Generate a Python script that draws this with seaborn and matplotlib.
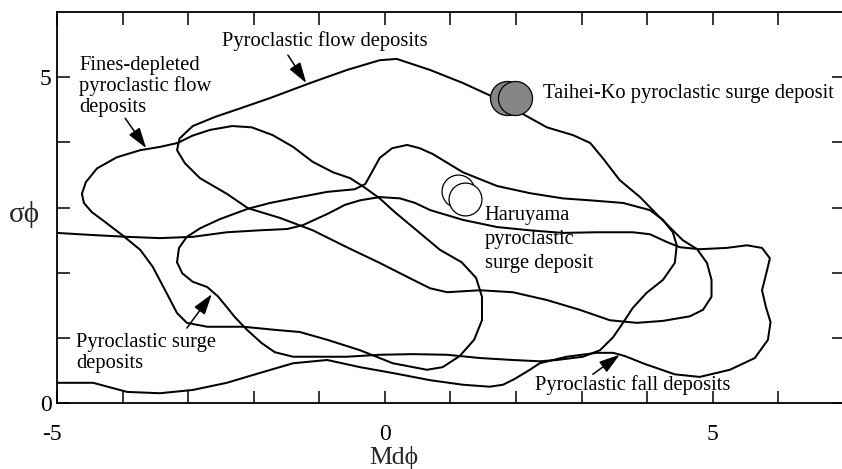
import matplotlib
matplotlib.use("Agg")
import matplotlib.pyplot as plt
from matplotlib.transforms import ScaledTranslation
import pandas as pd
import seaborn as sns

# ---- field outlines on the Md(phi) - sigma(phi) plane ----
flow_md = [-1.14, -0.58, -0.08, 0.18, 0.69, 1.19, 1.60, 1.95, 2.47, 2.87, 3.13, 3.32,
           3.58, 3.89, 4.19, 4.39, 4.54, 4.76, 4.91, 4.98, 4.98, 4.85, 4.65, 4.24,
           3.84, 3.43, 2.97, 2.47, 1.95, 1.45, 0.95, 0.69, 0.43, -0.08, -0.58, -1.10,
           -1.60, -2.09, -2.41, -2.82, -3.05, -3.17, -3.13, -2.93, -2.59, -2.21, -1.75]
flow_sigma = [4.91, 5.11, 5.26, 5.28, 5.11, 4.91, 4.72, 4.52, 4.23, 4.11, 3.99, 3.76,
              3.42, 3.16, 2.85, 2.65, 2.50, 2.36, 2.15, 1.89, 1.63, 1.43, 1.33, 1.26,
              1.23, 1.27, 1.43, 1.58, 1.70, 1.73, 1.70, 1.76, 1.89, 2.15, 2.39, 2.65,
              2.84, 2.99, 3.21, 3.45, 3.68, 3.88, 4.06, 4.25, 4.39, 4.52, 4.68]

fines_md = [-3.16, -2.94, -2.67, -2.33, -2.03, -1.71, -1.40, -1.10, -0.79, -0.53, -0.30,
            -0.08, 0.15, 0.46, 0.84, 1.17, 1.39, 1.48, 1.48, 1.36, 1.14, 0.88, 0.64,
            0.12, -0.38, -0.88, -1.30, -1.65, -2.16, -2.71, -3.02, -3.17, -3.32, -3.54,
            -3.73, -4.01, -4.27, -4.47, -4.59, -4.62, -4.56, -4.39, -4.09, -3.73, -3.43]
fines_sigma = [3.99, 4.10, 4.19, 4.25, 4.23, 4.11, 3.93, 3.70, 3.54, 3.45, 3.30,
               3.14, 2.93, 2.67, 2.35, 2.16, 1.92, 1.63, 1.27, 0.97, 0.72, 0.55, 0.51,
               0.61, 0.81, 0.97, 1.09, 1.12, 1.17, 1.17, 1.23, 1.38, 1.67, 2.09,
               2.35, 2.58, 2.78, 2.93, 3.07, 3.21, 3.39, 3.60, 3.77, 3.88, 3.93]

surge_md = [-3.17, -3.14, -3.02, -2.82, -2.52, -2.09, -1.75, -1.40, -0.88, -0.46, -0.30,
            -0.20, -0.08, 0.11, 0.34, 0.53, 0.73, 1.19, 1.71, 2.21, 2.71, 3.13, 3.63,
            4.04, 4.24, 4.39, 4.45, 4.42, 4.24, 3.99, 3.78, 3.63, 3.48, 3.28, 3.02,
            2.62, 2.36, 1.95, 1.45, 0.95, 0.43, -0.08, -0.58, -1.10, -1.40, -1.68,
            -1.88, -2.10, -2.29, -2.41, -2.55, -2.71, -2.93, -3.09]
surge_sigma = [2.16, 2.38, 2.55, 2.68, 2.82, 2.98, 3.07, 3.14, 3.24, 3.28, 3.36,
               3.54, 3.76, 3.91, 3.96, 3.91, 3.82, 3.54, 3.33, 3.22, 3.14, 3.11, 3.07,
               2.96, 2.81, 2.62, 2.42, 2.15, 1.89, 1.69, 1.46, 1.23, 1.01, 0.81, 0.71,
               0.66, 0.64, 0.66, 0.69, 0.74, 0.75, 0.74, 0.71, 0.71, 0.71, 0.78,
               0.92, 1.12, 1.32, 1.47, 1.64, 1.78, 1.86, 1.99]

fall_md = [-5.00, -4.50, -3.93, -3.43, -2.93, -2.41, -1.91, -1.49, -1.25, -0.88, -0.61,
           -0.38, -0.08, 0.23, 0.46, 0.69, 1.19, 1.71, 2.21, 2.71, 3.23, 3.78, 4.04,
           4.30, 4.50, 4.80, 5.21, 5.52, 5.75, 5.87, 5.82, 5.75, 5.81, 5.88, 5.84,
           5.64, 5.26, 4.80, 4.42, 3.96, 3.66, 3.48, 3.23, 2.77, 2.36, 2.21, 1.98,
           1.80, 1.60, 1.19, 0.69, 0.12, -0.38, -0.88, -1.40, -1.91, -2.41, -2.93,
           -3.43, -3.93, -4.45, -5.00]
fall_sigma = [2.61, 2.58, 2.55, 2.53, 2.55, 2.62, 2.65, 2.67, 2.73, 2.90, 3.04,
              3.11, 3.16, 3.14, 3.07, 2.96, 2.81, 2.70, 2.65, 2.61, 2.62, 2.62, 2.59,
              2.47, 2.39, 2.36, 2.38, 2.42, 2.38, 2.22, 2.01, 1.73, 1.47, 1.24, 0.97,
              0.69, 0.51, 0.40, 0.44, 0.60, 0.72, 0.77, 0.77, 0.71, 0.61, 0.51, 0.37,
              0.28, 0.25, 0.28, 0.35, 0.46, 0.55, 0.66, 0.61, 0.46, 0.31, 0.20,
              0.15, 0.17, 0.31, 0.31]

# ---- measured samples ----
taihei_md = [1.86, 1.98]
taihei_sigma = [4.68, 4.68]
haruyama_md = [1.11, 1.22]
haruyama_sigma = [3.25, 3.13]

x_ticks = list(range(-5, 7))
x_ticklabels = ["-5", "", "", "", "", "0", "", "", "", "", "5", ""]
y_ticks = list(range(0, 6))
y_ticklabels = ["0", "", "", "", "", "5"]

sns.set_style("ticks")
serif = ["Liberation Serif", "DejaVu Serif"]
plt.rcParams["font.family"] = serif

fig = plt.figure(figsize=(8.42, 4.69), dpi=100)
ax = fig.add_axes([57 / 842, 66 / 469, 787 / 842, 391 / 469])


def outline(md, sigma, closed=True):
    if closed:
        md = md + md[:1]
        sigma = sigma + sigma[:1]
    df = pd.DataFrame({"md": md, "sigma": sigma})
    sns.lineplot(data=df, x="md", y="sigma", sort=False, estimator=None,
                 color="black", linewidth=1.45, ax=ax,
                 solid_joinstyle="round", solid_capstyle="round")


outline(flow_md, flow_sigma)
outline(fines_md, fines_sigma)
outline(surge_md, surge_sigma)
outline(fall_md, fall_sigma, closed=False)

# sample points: back circle first, front circle second
for i in range(2):
    sns.scatterplot(x=[taihei_md[i]], y=[taihei_sigma[i]], s=600, color="#858585",
                    edgecolor="black", linewidth=0.9, ax=ax, zorder=5)
    sns.scatterplot(x=[haruyama_md[i]], y=[haruyama_sigma[i]], s=560, color="white",
                    edgecolor="black", linewidth=0.9, ax=ax, zorder=5)

ax.set_xlim(-5, 7)
ax.set_ylim(0, 6)

txt = dict(fontsize=14.8, color="black", va="baseline", ha="left")
ax.text(-2.48, 5.48, "Pyroclastic flow deposits", **txt)
ax.text(-4.66, 5.11, "Fines-depleted", **txt)
ax.text(-4.66, 4.79, "pyroclastic flow", **txt)
ax.text(-4.66, 4.46, "deposits", **txt)
ax.text(2.41, 4.68, "Taihei-Ko pyroclastic surge deposit", **txt)
ax.text(1.52, 2.81, "Haruyama", **txt)
ax.text(1.52, 2.44, "pyroclastic", **txt)
ax.text(1.52, 2.07, "surge deposit", **txt)
ax.text(-4.71, 0.86, "Pyroclastic surge", **txt)
ax.text(-4.71, 0.54, "deposits", **txt)
ax.text(2.29, 0.20, "Pyroclastic fall deposits", **txt)

arrow = dict(arrowstyle="-|>,head_length=0.7,head_width=0.22", color="black",
             lw=1.1, mutation_scale=18, shrinkA=0, shrinkB=0)
ax.annotate("", xy=(-1.20, 4.91), xytext=(-1.48, 5.34), arrowprops=arrow)
ax.annotate("", xy=(-3.64, 3.91), xytext=(-3.96, 4.37), arrowprops=arrow)
ax.annotate("", xy=(-2.64, 1.67), xytext=(-3.02, 1.15), arrowprops=arrow)
ax.annotate("", xy=(3.58, 0.74), xytext=(3.17, 0.44), arrowprops=arrow)

ax.set_xticks(x_ticks)
ax.set_xticklabels(x_ticklabels)
ax.set_yticks(y_ticks)
ax.set_yticklabels(y_ticklabels)
ax.tick_params(direction="in", length=9, width=1.1, top=True, right=True,
               labelsize=17, colors="black")
ax.tick_params(axis="x", pad=15)
ax.tick_params(axis="y", pad=4)
lab = ax.get_xticklabels()[0]
lab.set_transform(lab.get_transform() + ScaledTranslation(-5 / 100, 0, fig.dpi_scale_trans))

for sp in ax.spines.values():
    sp.set_linewidth(1.3)
    sp.set_color("black")

ax.set_xlabel("Md\u03d5", fontsize=18.5, va="center")
ax.set_ylabel("\u03c3\u03d5", fontsize=21, rotation=0, ha="center", va="center")
ax.xaxis.set_label_coords(0.428, -0.139)
ax.yaxis.set_label_coords(-0.041, 0.483)

fig.savefig("out.png", dpi=100)
